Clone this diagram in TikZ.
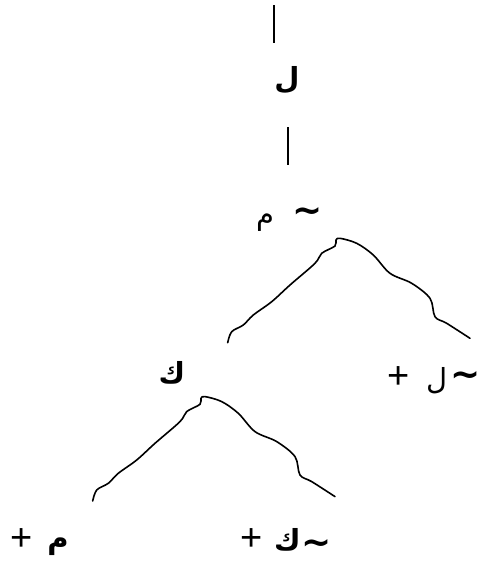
\documentclass[tikz,border=0pt]{standalone}
\usepackage{fontspec}
\setmainfont{Liberation Serif}
\newfontfamily\plusfont{Liberation Sans}
\newfontfamily\arabicfont[Script=Arabic]{DejaVu Sans}
\TeXXeTstate=1
\newcommand{\ar}[1]{{\arabicfont\beginR #1\endR}}
\tikzset{
  lt/.style={inner sep=0pt, font=\fontsize{29}{34}\selectfont},
  ltb/.style={inner sep=0pt, font=\fontsize{29}{34}\selectfont\bfseries},
  op/.style={inner sep=0pt, anchor=base, font=\plusfont\fontsize{38}{44}\selectfont},
  opb/.style={inner sep=0pt, anchor=base, font=\arabicfont\fontsize{36}{42}\selectfont\bfseries},
  ln/.style={line width=1.6pt},
  hill/.pic={
    \draw[ln, line join=round, line cap=round] plot[smooth, tension=0.55] coordinates {
      (0,0) (4,-11) (15.6,-17.7) (25.6,-27.7) (44,-41) (62.3,-57.7) (87.3,-79.4)
      (94,-89.4) (107.3,-96.7) (108.3,-102.7) (112.3,-104.4) (129,-99.4) (145.6,-87.7)
      (162.3,-69.4) (184,-59.4) (202.3,-44.4) (207.3,-26) (219,-19.4) (242.3,-4.4)};
  },
}

\begin{document}
\begin{tikzpicture}[x=1pt, y=-1pt]
  \useasboundingbox (0,0) rectangle (481,563);
  \coordinate (top0) at (274,5);
  \coordinate (top1) at (274,43);
  \node[ltb] (lamTop) at (287,80) {\ar{ل}};
  \coordinate (mid0) at (288,127);
  \coordinate (mid1) at (288,165);
  \node[opb] (notTop) at (308,222.3) {\char`\~};
  \node[lt] (mimTop) at (265,223) {\ar{م}};
  \coordinate (hillA) at (227.7,342.7);
  \coordinate (hillB) at (92.7,501);
  \node[ltb] (kafMid) at (172,373) {\ar{ك}};
  \node[op] (plusMid) at (399,388.5) {+};
  \node[lt] (lamMid) at (437,381) {\ar{ل}};
  \node[opb, anchor=base east] (notMid) at (481,386.3) {\char`\~};
  \node[op] (plusL) at (22,550.5) {+};
  \node[ltb] (mimL) at (58,547) {\ar{م}};
  \node[op] (plusR) at (252,550.5) {+};
  \node[ltb, anchor=east] (kafR) at (301,540) {\ar{ك}};
  \node[opb, anchor=base west] (notR) at (kafR.east |- 0,554.3) {\char`\~};
  \draw[ln] (top0) -- (top1);
  \draw[ln] (mid0) -- (mid1);
  \pic at (hillA) {hill};
  \pic at (hillB) {hill};
\end{tikzpicture}
\end{document}
